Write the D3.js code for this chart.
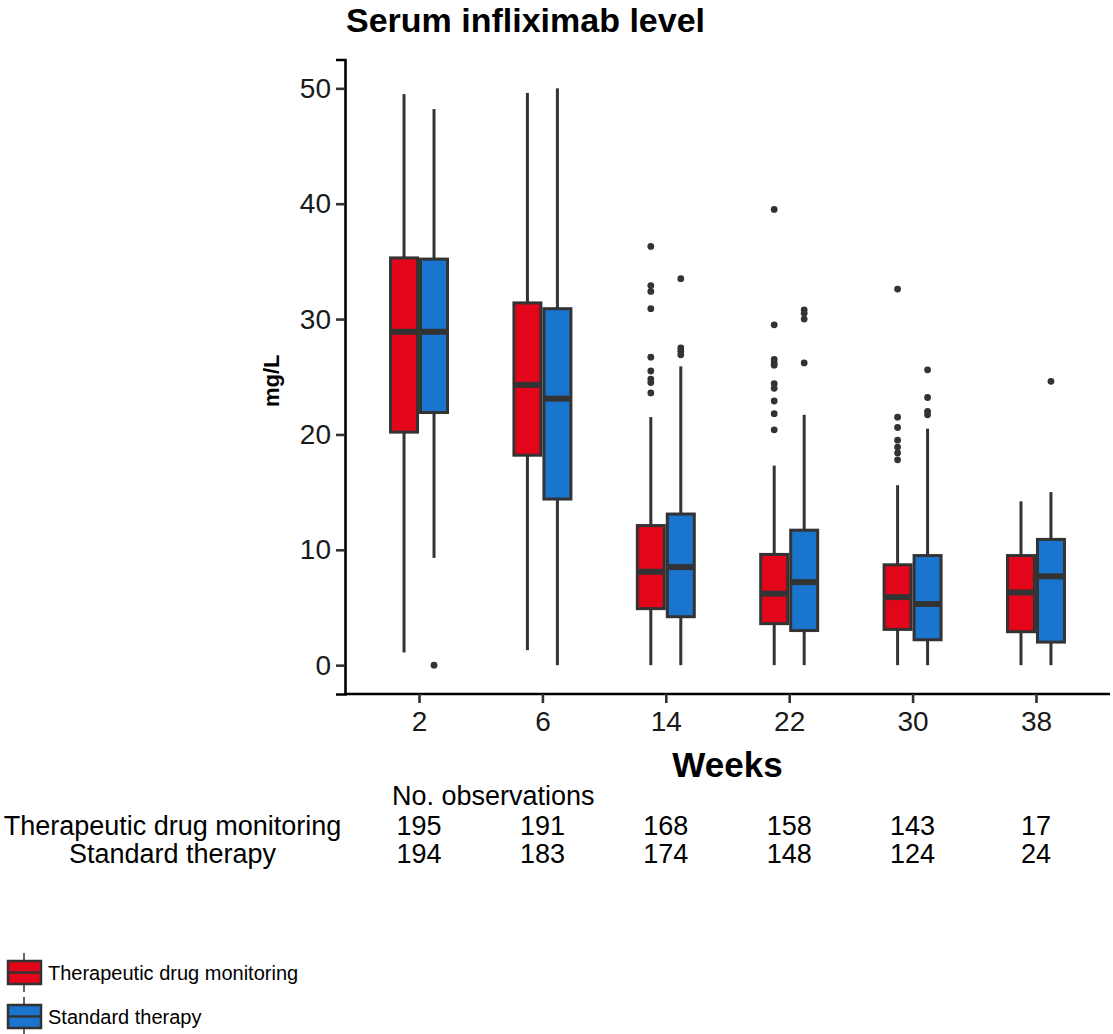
<!DOCTYPE html>
<html>
<head>
<meta charset="utf-8">
<script src="https://cdn.jsdelivr.net/npm/d3@7"></script>
<style>
  html, body { margin: 0; padding: 0; background: #fff; }
  svg { display: block; font-family: "Liberation Sans", Arial, Helvetica, sans-serif; }
</style>
</head>
<body>
<svg id="chart" width="1113" height="1034"></svg>
<script>
// Visit weeks (x categories)
const weeks = ["2", "6", "14", "22", "30", "38"];
const groups = ["Therapeutic drug monitoring", "Standard therapy"];
const groupColors = ["#E3061A", "#1A75CF"];

// Box statistics per week: [lower whisker, Q1, median, Q3, upper whisker]
const tdmStats = [
  [1.1, 20.2, 28.9, 35.3, 49.5],
  [1.3, 18.2, 24.3, 31.4, 49.6],
  [0.0, 4.9, 8.1, 12.1, 21.5],
  [0.0, 3.6, 6.2, 9.6, 17.3],
  [0.0, 3.1, 5.9, 8.7, 15.6],
  [0.0, 2.9, 6.3, 9.5, 14.2]
];
const stdStats = [
  [9.3, 21.9, 28.9, 35.2, 48.2],
  [0.0, 14.4, 23.1, 30.9, 50.0],
  [0.0, 4.2, 8.5, 13.1, 25.9],
  [0.0, 3.0, 7.2, 11.7, 21.7],
  [0.0, 2.2, 5.3, 9.5, 20.5],
  [0.0, 2.0, 7.7, 10.9, 15.0]
];

// Outlying observations per week
const tdmOutliers = [
  [],
  [],
  [36.3, 32.9, 32.4, 30.9, 26.7, 25.5, 24.8, 24.5, 23.6],
  [39.5, 29.5, 26.5, 26.2, 26.0, 24.4, 24.0, 22.9, 21.8, 20.4],
  [32.6, 21.5, 20.6, 19.5, 18.9, 18.4, 17.8],
  []
];
const stdOutliers = [
  [0.0],
  [],
  [33.5, 27.5, 27.2, 26.9],
  [30.8, 30.5, 30.0, 26.2],
  [25.6, 23.2, 22.0, 21.7],
  [24.6]
];

// Number of observations per week
const tdmCounts = [195, 191, 168, 158, 143, 17];
const stdCounts = [194, 183, 174, 148, 124, 24];

const yTicks = [0, 10, 20, 30, 40, 50];

const svg = d3.select("#chart");
const ink = "#333333";

const plot = { left: 345, right: 1110, top: 59.5, bottom: 694 };

const x = d3.scalePoint().domain(weeks).range([plot.left, plot.right]).padding(0.6);
const y = d3.scaleLinear().domain([-2.5, 52.5]).range([plot.bottom, plot.top]);

const boxW = x.step() * 0.243;
const offsets = [-boxW / 2, boxW / 2];

// Title
svg.append("text")
  .attr("x", 346).attr("y", 32)
  .attr("font-size", 34).attr("font-weight", "bold").attr("fill", "#000")
  .text("Serum infliximab level");

// Y axis
const yAxis = svg.append("g")
  .attr("transform", `translate(${plot.left},0)`)
  .call(d3.axisLeft(y).tickValues(yTicks).tickSize(9).tickPadding(5).tickFormat(d3.format("d")));
yAxis.select(".domain").attr("stroke", "#000").attr("stroke-width", 2.6);
yAxis.selectAll(".tick line").attr("stroke", ink).attr("stroke-width", 2.6);
yAxis.selectAll(".tick text").attr("font-size", 28).attr("fill", "#1a1a1a")
  .attr("font-family", "'Liberation Sans', Arial, sans-serif");

// X axis
const xAxis = svg.append("g")
  .attr("transform", `translate(0,${plot.bottom})`)
  .call(d3.axisBottom(x).tickSize(9).tickPadding(8));
xAxis.select(".domain").attr("stroke", "#000").attr("stroke-width", 2.6)
  .attr("d", `M${plot.left},0H${plot.right}`);
xAxis.selectAll(".tick line").attr("stroke", ink).attr("stroke-width", 2.6);
xAxis.selectAll(".tick text").attr("font-size", 28).attr("fill", "#1a1a1a")
  .attr("font-family", "'Liberation Sans', Arial, sans-serif");

// Axis titles
svg.append("text")
  .attr("transform", `translate(279,${(y(0) + y(50)) / 2 + 4}) rotate(-90)`)
  .attr("text-anchor", "middle")
  .attr("font-size", 22).attr("font-weight", "bold")
  .text("mg/L");

svg.append("text")
  .attr("x", (plot.left + plot.right) / 2).attr("y", 777)
  .attr("text-anchor", "middle")
  .attr("font-size", 35).attr("font-weight", "bold")
  .text("Weeks");

// Boxes
const series = [
  { stats: tdmStats, outliers: tdmOutliers },
  { stats: stdStats, outliers: stdOutliers }
];

const boxes = svg.append("g");
series.forEach((s, gi) => {
  weeks.forEach((w, wi) => {
    const [lo, q1, med, q3, hi] = s.stats[wi];
    const cx = x(w) + offsets[gi];
    const g = boxes.append("g");
    // whiskers
    g.append("line").attr("x1", cx).attr("x2", cx).attr("y1", y(q3)).attr("y2", y(hi))
      .attr("stroke", ink).attr("stroke-width", 3);
    g.append("line").attr("x1", cx).attr("x2", cx).attr("y1", y(q1)).attr("y2", y(lo))
      .attr("stroke", ink).attr("stroke-width", 3);
    // box
    g.append("rect")
      .attr("x", cx - boxW / 2 + 1.5).attr("width", boxW - 3)
      .attr("y", y(q3)).attr("height", y(q1) - y(q3))
      .attr("fill", groupColors[gi]).attr("stroke", ink).attr("stroke-width", 3);
    // median
    g.append("line")
      .attr("x1", cx - boxW / 2 + 1.5).attr("x2", cx + boxW / 2 - 1.5)
      .attr("y1", y(med)).attr("y2", y(med))
      .attr("stroke", ink).attr("stroke-width", 6);
    // outliers
    g.selectAll("circle").data(s.outliers[wi]).join("circle")
      .attr("cx", cx).attr("cy", d => y(d)).attr("r", 3.4).attr("fill", ink);
  });
});

// Observation counts table
const tbl = svg.append("g").attr("font-size", 27).attr("fill", "#000");
tbl.append("text").attr("x", 392).attr("y", 805).text("No. observations");
tbl.append("text").attr("x", 172.5).attr("y", 835).attr("text-anchor", "middle").text(groups[0]);
tbl.append("text").attr("x", 172.5).attr("y", 863).attr("text-anchor", "middle").text(groups[1]);
tbl.selectAll("text.n1").data(tdmCounts).join("text").attr("class", "n1")
  .attr("x", (d, i) => x(weeks[i])).attr("y", 835).attr("text-anchor", "middle").text(d => d);
tbl.selectAll("text.n2").data(stdCounts).join("text").attr("class", "n2")
  .attr("x", (d, i) => x(weeks[i])).attr("y", 863).attr("text-anchor", "middle").text(d => d);

// Legend
const legend = svg.append("g");
const keyTop = [961, 1005];
groups.forEach((name, gi) => {
  const g = legend.append("g").attr("transform", `translate(7,${keyTop[gi]})`);
  g.append("line").attr("x1", 17).attr("x2", 17).attr("y1", -8).attr("y2", 31)
    .attr("stroke", ink).attr("stroke-width", 1.5);
  g.append("rect").attr("x", 1).attr("y", 0).attr("width", 33).attr("height", 23)
    .attr("fill", groupColors[gi]).attr("stroke", ink).attr("stroke-width", 2.5);
  g.append("line").attr("x1", 1).attr("x2", 34).attr("y1", 11.5).attr("y2", 11.5)
    .attr("stroke", ink).attr("stroke-width", 2.5);
  g.append("text").attr("x", 41).attr("y", 18.5).attr("font-size", 20).attr("fill", "#000")
    .text(name);
});
</script>
</body>
</html>
